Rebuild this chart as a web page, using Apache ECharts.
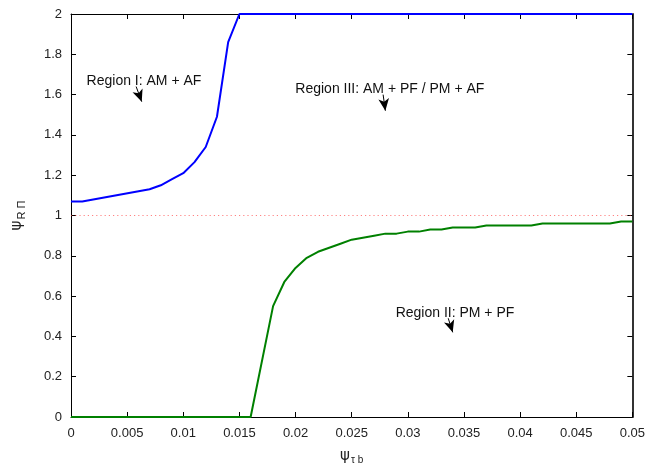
<!DOCTYPE html>
<html>
<head>
<meta charset="utf-8">
<script src="https://cdn.jsdelivr.net/npm/echarts@6/dist/echarts.min.js"></script>
<style>
    html, body { margin: 0; padding: 0; background: #fff; }
    #main { width: 648px; height: 470px; }
</style>
</head>
<body>
<div id="main"></div>
<script>
// upper boundary (Region I / Region III)
var blueX = [0, 0.001, 0.007, 0.008, 0.009, 0.01, 0.011, 0.012, 0.013, 0.014, 0.015, 0.05];
var blueY = [1.07, 1.07, 1.13, 1.15, 1.18, 1.21, 1.265, 1.34, 1.49, 1.86, 2, 2];

// lower boundary (Region II / Region III)
var greenX = [0, 0.016, 0.018, 0.019, 0.02, 0.021, 0.022, 0.023, 0.024, 0.025, 0.026, 0.027, 0.028,
    0.029, 0.03, 0.031, 0.032, 0.033, 0.034, 0.035, 0.036, 0.037, 0.041, 0.042, 0.048, 0.049, 0.05];
var greenY = [0, 0, 0.55, 0.67, 0.74, 0.79, 0.82, 0.84, 0.86, 0.88, 0.89, 0.90, 0.91,
    0.91, 0.92, 0.92, 0.93, 0.93, 0.94, 0.94, 0.94, 0.95, 0.95, 0.96, 0.96, 0.97, 0.97];

// reference level
var refX = [0, 0.05];
var refY = [1, 1];

// annotations: label text, label position, arrow start, arrow end (data coords)
var notes = [
    {text: 'Region I: AM + AF', at: [0.0065, 1.667], from: [0.0058, 1.64], to: [0.0063, 1.565]},
    {text: 'Region III: AM + PF / PM + AF', at: [0.0284, 1.628], from: [0.0278, 1.60], to: [0.0280, 1.52]},
    {text: 'Region II: PM + PF', at: [0.0342, 0.513], from: [0.0336, 0.49], to: [0.0340, 0.42]}
];

function pairs(xs, ys) {
    var out = [];
    for (var i = 0; i < xs.length; i++) {
        out.push([xs[i], ys[i]]);
    }
    return out;
}

var font = 'Liberation Sans, Arial, sans-serif';

var chart = echarts.init(document.getElementById('main'));

var markPts = [], markLns = [];
notes.forEach(function (n) {
    markPts.push({coord: n.at, value: n.text});
    markLns.push([{coord: n.from}, {coord: n.to}]);
});

var option = {
    animation: false,
    backgroundColor: '#fff',
    grid: {left: 71, right: 15, top: 14, bottom: 47},
    xAxis: [{
        type: 'value', min: 0, max: 0.05, interval: 0.005,
        axisLine: {onZero: false, lineStyle: {color: '#000', width: 1}},
        axisTick: {inside: true, length: 5, lineStyle: {color: '#000'}},
        axisLabel: {
            color: '#222', fontSize: 13, fontFamily: font, margin: 10,
            formatter: function (v) { return String(+v.toFixed(3)); }
        },
        splitLine: {show: false},
        name: '{a|ψ}{b|τ b}',
        nameLocation: 'middle',
        nameGap: 30,
        nameTextStyle: {
            rich: {
                a: {fontSize: 15, color: '#222', fontFamily: 'DejaVu Sans'},
                b: {fontSize: 10, color: '#222', fontFamily: font, padding: [8, 0, 0, 1]}
            }
        }
    }, {
        type: 'value', min: 0, max: 0.05, interval: 0.005, position: 'top',
        axisLine: {onZero: false, lineStyle: {color: '#000', width: 1}},
        axisTick: {inside: true, length: 5, lineStyle: {color: '#000'}},
        axisLabel: {show: false},
        splitLine: {show: false}
    }],
    yAxis: [{
        type: 'value', min: 0, max: 2, interval: 0.2,
        axisLine: {show: true, onZero: false, lineStyle: {color: '#000', width: 1}},
        axisTick: {show: true, inside: true, length: 5, lineStyle: {color: '#000'}},
        axisLabel: {
            color: '#222', fontSize: 13, fontFamily: font, margin: 9,
            formatter: function (v) { return String(+v.toFixed(1)); }
        },
        splitLine: {show: false},
        name: '{a|ψ}{b|R Π}',
        nameLocation: 'middle',
        nameGap: 44,
        nameTextStyle: {
            rich: {
                a: {fontSize: 15, color: '#222', fontFamily: 'DejaVu Sans'},
                b: {fontSize: 11, color: '#222', fontFamily: font, padding: [8, 0, 0, 1]}
            }
        }
    }, {
        type: 'value', min: 0, max: 2, interval: 0.2, position: 'right',
        axisLine: {show: true, onZero: false, lineStyle: {color: '#333', width: 2}},
        axisTick: {show: true, inside: true, length: 5, lineStyle: {color: '#000'}},
        axisLabel: {show: false},
        splitLine: {show: false}
    }],
    series: [{
        name: 'ref',
        type: 'line',
        data: pairs(refX, refY),
        symbol: 'none',
        lineStyle: {color: '#ff3030', width: 1.2, type: [1.2, 3], opacity: 0.6},
        z: 1,
        markPoint: {
            symbol: 'circle', symbolSize: 0,
            label: {
                show: true, position: 'inside', color: '#111', fontSize: 14, fontFamily: font,
                formatter: function (p) { return p.value; }
            },
            data: markPts
        },
        markLine: {
            silent: true,
            symbol: ['none', 'arrow'],
            symbolSize: [8, 12],
            label: {show: false},
            lineStyle: {color: '#000', width: 1, type: 'solid', opacity: 1},
            data: markLns
        }
    }, {
        name: 'upper',
        type: 'line',
        data: pairs(blueX, blueY),
        symbol: 'none',
        lineStyle: {color: '#0000ff', width: 2},
        z: 3
    }, {
        name: 'lower',
        type: 'line',
        data: pairs(greenX, greenY),
        symbol: 'none',
        lineStyle: {color: '#008000', width: 2},
        z: 3
    }]
};

chart.setOption(option);
</script>
</body>
</html>
